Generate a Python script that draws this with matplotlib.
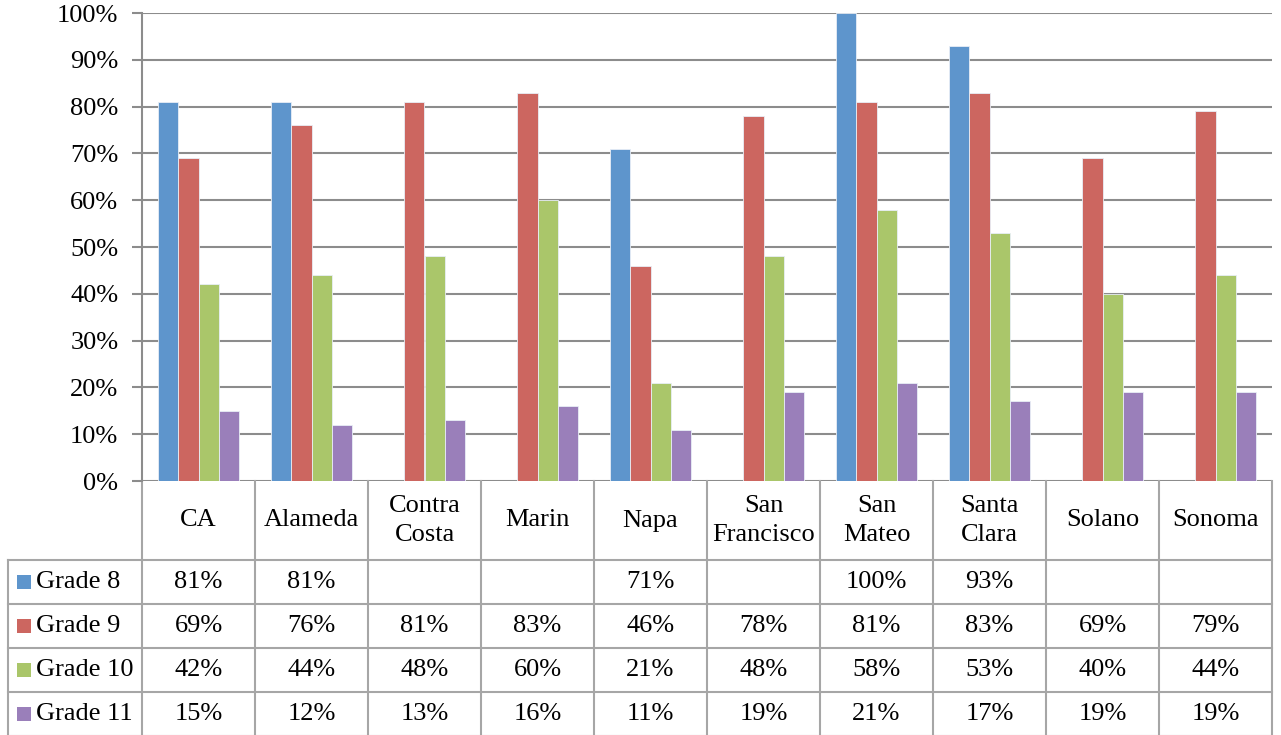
import numpy as np
from matplotlib import pyplot as plt
from matplotlib.ticker import FuncFormatter
from matplotlib.patches import Rectangle

counties = ['CA', 'Alameda', 'Contra\nCosta', 'Marin', 'Napa', 'San\nFrancisco',
            'San\nMateo', 'Santa\nClara', 'Solano', 'Sonoma']
grades = ['Grade 8', 'Grade 9', 'Grade 10', 'Grade 11']
grade8 = [81, 81, None, None, 71, None, 100, 93, None, None]
grade9 = [69, 76, 81, 83, 46, 78, 81, 83, 69, 79]
grade10 = [42, 44, 48, 60, 21, 48, 58, 53, 40, 44]
grade11 = [15, 12, 13, 16, 11, 19, 21, 17, 19, 19]
series = [grade8, grade9, grade10, grade11]
colors = ['#5E95CC', '#CC6660', '#AAC66A', '#9A7FBA']

FS = 19
plt.rcParams['font.family'] = ['Liberation Serif', 'DejaVu Serif']
plt.rcParams['font.size'] = FS

W, H = 1281, 735
fig = plt.figure(figsize=(W / 100, H / 100), dpi=100)
left, right, top, bottom = 142, 1272, 13, 481
ax = fig.add_axes([left / W, 1 - bottom / H, (right - left) / W, (bottom - top) / H])

x = np.arange(len(counties))
bw = 0.18
for k, (vals, c) in enumerate(zip(series, colors)):
    v = [np.nan if a is None else a / 100 for a in vals]
    ax.bar(x + (k - 1.5) * bw, v, width=bw, color=c, edgecolor='#E8EEF6',
           linewidth=0.6, zorder=3)

grid_c = '#8C8C8C'
ax.set_xlim(-0.5, len(counties) - 0.5)
ax.set_ylim(0, 1)
ax.set_yticks(np.arange(0, 1.01, 0.1))
ax.yaxis.set_major_formatter(FuncFormatter(lambda v, p: f'{v * 100:.0f}%'))
ax.yaxis.grid(True, color=grid_c, linewidth=1.5, zorder=0)
ax.set_xticks([])
for s in ['top', 'right', 'bottom']:
    ax.spines[s].set_visible(False)
ax.spines['left'].set_color(grid_c)
ax.spines['left'].set_linewidth(1.5)
ax.tick_params(axis='y', length=7, width=1.5, color=grid_c, pad=10, labelsize=FS)

# data table below the plot, in axes coordinates
ph = bottom - top
head = 79 / ph
row = 44 / ph
lx = -(left - 8) / (right - left)
tr = ax.transAxes
lw = 1.5
tc = '#A6A6A6'
y_data_top = -head
y_end = -head - 4 * row
ax.plot([0, 0], [0, y_end], color=tc, lw=lw, transform=tr, clip_on=False)
ax.plot([1, 1], [0, y_end], color=tc, lw=lw, transform=tr, clip_on=False)
ax.plot([lx, lx], [y_data_top, y_end], color=tc, lw=lw, transform=tr, clip_on=False)
for i in range(1, len(counties)):
    xf = i / len(counties)
    ax.plot([xf, xf], [0, y_end], color=tc, lw=lw, transform=tr, clip_on=False)
for r in range(5):
    yy = y_data_top - r * row
    ax.plot([lx, 1], [yy, yy], color=tc, lw=lw, transform=tr, clip_on=False)

for i, name in enumerate(counties):
    xc = (i + 0.5) / len(counties)
    ax.text(xc, -head / 2, name, ha='center', va='center', transform=tr,
            fontsize=FS, linespacing=1.45)

for r, (g, vals, c) in enumerate(zip(grades, series, colors)):
    yc = y_data_top - (r + 0.5) * row
    ax.add_patch(Rectangle((lx + 9 / (right - left), yc - 7 / ph), 14 / (right - left), 14 / ph,
                           facecolor=c, edgecolor='none', transform=tr, clip_on=False))
    ax.text(lx + 28 / (right - left), yc, g, ha='left', va='center', transform=tr, fontsize=FS)
    for i, v in enumerate(vals):
        if v is None:
            continue
        ax.text((i + 0.5) / len(counties), yc, f'{v}%', ha='center', va='center',
                transform=tr, fontsize=FS)

fig.savefig('out.png', dpi=100)
